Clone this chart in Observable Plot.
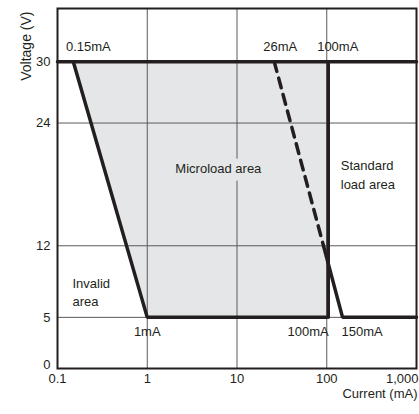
<!DOCTYPE html>
<html><head><meta charset="utf-8">
<script src="https://cdn.jsdelivr.net/npm/d3@7"></script>
<script src="https://cdn.jsdelivr.net/npm/@observablehq/plot@0.6"></script>
<style>
body{margin:0;background:#fff}
svg{font-family:"Liberation Sans",Arial,Helvetica,sans-serif}
</style>
</head><body><div id="chart"></div>
<script>
// Axis ticks
const currentTicks = [0.1, 1, 10, 100, 1000];
const currentTickLabels = ["0.1", "1", "10", "100", "1,000"];
const voltageTicks = [0, 5, 12, 24, 30];

// Microload area polygon (mA, V)
const microCurrent = [0.15, 100, 100, 1];
const microVoltage = [30, 30, 5, 5];

// Maximum voltage line
const maxCurrent = [0.1, 1000];
const maxVoltage = [30, 30];

// Minimum (invalid area) boundary and microload lower limit
const minCurrent = [0.15, 1, 100];
const minVoltage = [30, 5, 5];

// Microload upper current limit
const upperCurrent = [100, 100];
const upperVoltage = [30, 5];

// Standard load boundary: dashed part and solid part
const stdDashCurrent = [26, 92];
const stdDashVoltage = [30, 12];
const stdSolidCurrent = [92, 150, 1000];
const stdSolidVoltage = [12, 5, 5];

// Annotations
const topLabels = ["0.15mA", "26mA", "100mA"];
const topLabelCurrent = [0.15, 26, 100];
const bottomLabels = ["1mA", "100mA", "150mA"];
const bottomLabelCurrent = [1, 100, 150];
const areaLabels = ["Microload area", "Standard\nload area", "Invalid\narea"];
const areaLabelCurrent = [6.2, 100, 0.1];
const areaLabelVoltage = [19.5, 19.1, 7.6];

const pts = (xs, ys) => xs.map((x, i) => ({x, y: ys[i]}));
const ink = "#231f20";
const fillGray = "#e5e6e7";
const lw = 3.5;
const topOffsets = [15, 6, 11];

const chart = Plot.plot({
  width: 419,
  height: 414,
  marginLeft: 57,
  marginRight: 3,
  marginTop: 8,
  marginBottom: 46,
  style: {fontSize: "13px", color: ink, background: "#fff"},
  x: {type: "log", domain: [0.1, 1000]},
  y: {domain: [0, 35.2]},
  marks: [
    Plot.line(pts(microCurrent, microVoltage), {x: "x", y: "y", fill: fillGray, stroke: "none", curve: "linear-closed"}),
    Plot.gridX(currentTicks, {stroke: "#5a5a5a", strokeOpacity: 1, strokeWidth: 1}),
    Plot.gridY(voltageTicks, {stroke: "#5a5a5a", strokeOpacity: 1, strokeWidth: 1}),
    Plot.axisX(currentTicks.slice(0, 4), {tickSize: 0, tickPadding: 5, tickFormat: (d) => currentTickLabels[currentTicks.indexOf(d)], label: null, fontSize: 13}),
    Plot.axisX(currentTicks.slice(4), {tickSize: 0, tickPadding: 5, tickFormat: (d) => currentTickLabels[currentTicks.indexOf(d)], label: null, textAnchor: "end", dx: 2, fontSize: 13}),
    Plot.axisY(voltageTicks.slice(1), {tickSize: 0, tickPadding: 7, label: null, fontSize: 13}),
    Plot.axisY(voltageTicks.slice(0, 1), {tickSize: 0, tickPadding: 7, label: null, dy: -4, fontSize: 13}),
    Plot.frame({stroke: ink, strokeWidth: 2}),
    Plot.line(pts(maxCurrent, maxVoltage), {x: "x", y: "y", stroke: ink, strokeWidth: lw}),
    Plot.line(pts(minCurrent, minVoltage), {x: "x", y: "y", stroke: ink, strokeWidth: lw, strokeLinejoin: "miter"}),
    Plot.line(pts(upperCurrent, upperVoltage), {x: "x", y: "y", stroke: ink, strokeWidth: lw, dx: 1.5}),
    Plot.line(pts(stdDashCurrent, stdDashVoltage), {x: "x", y: "y", stroke: ink, strokeWidth: lw, strokeDasharray: "10,7"}),
    Plot.line(pts(stdSolidCurrent, stdSolidVoltage), {x: "x", y: "y", stroke: ink, strokeWidth: lw, strokeLinejoin: "miter"}),
    ...topLabels.map((t, i) => Plot.text([t], {x: topLabelCurrent[i], y: 30, text: (d) => d, dy: -15, dx: topOffsets[i], fill: ink, fontSize: 13})),
    Plot.text(bottomLabels.slice(0, 1), {x: bottomLabelCurrent[0], y: 5, text: (d) => d, dy: 14, fill: ink, fontSize: 13}),
    Plot.text(bottomLabels.slice(1, 2), {x: bottomLabelCurrent[1], y: 5, text: (d) => d, dy: 14, dx: 2, textAnchor: "end", fill: ink, fontSize: 13}),
    Plot.text(bottomLabels.slice(2, 3), {x: bottomLabelCurrent[2], y: 5, text: (d) => d, dy: 14, dx: -1, textAnchor: "start", fill: ink, fontSize: 13}),
    Plot.text(areaLabels.slice(0, 1), {x: areaLabelCurrent[0], y: areaLabelVoltage[0], text: (d) => d, fill: ink, stroke: fillGray, strokeWidth: 15, strokeLinejoin: "round", paintOrder: "stroke", fontSize: 13}),
    Plot.text(areaLabels.slice(1, 2), {x: areaLabelCurrent[1], y: areaLabelVoltage[1], text: (d) => d, fill: ink, textAnchor: "start", dx: 14, lineHeight: 1.45, fontSize: 13}),
    Plot.text(areaLabels.slice(2, 3), {x: areaLabelCurrent[2], y: areaLabelVoltage[2], text: (d) => d, fill: ink, textAnchor: "start", dx: 15, lineHeight: 1.4, fontSize: 13}),
    Plot.text(["Current (mA)"], {frameAnchor: "bottom-right", text: (d) => d, textAnchor: "end", dy: 29, dx: 1, fill: ink, fontSize: 13}),
    Plot.text(["Voltage (V)"], {frameAnchor: "top-left", text: (d) => d, rotate: -90, textAnchor: "end", dx: -36, dy: 3, fill: ink, fontSize: 14})
  ]
});
document.getElementById("chart").appendChild(chart);
</script>
</body></html>
